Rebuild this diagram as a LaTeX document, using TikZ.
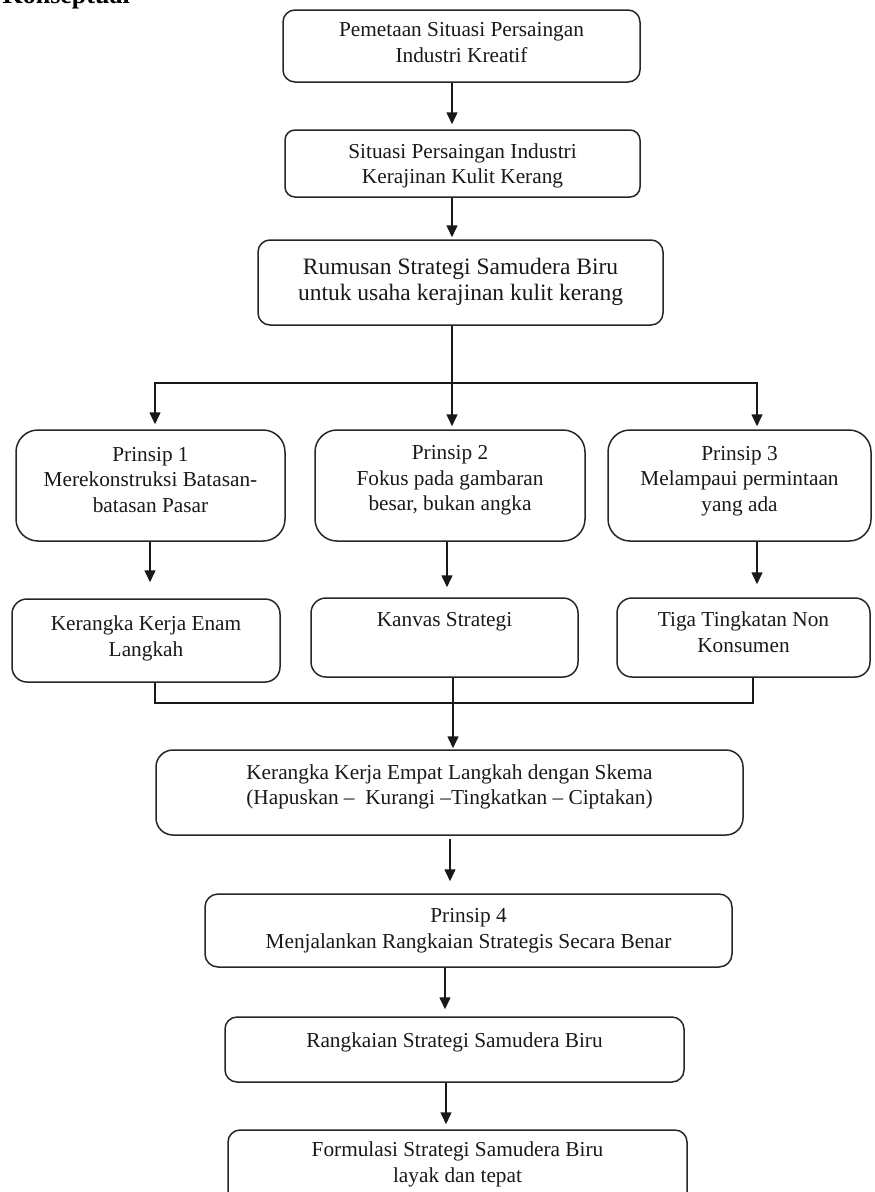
\documentclass[tikz,border=0pt]{standalone}
\usepackage{fontspec}
\setmainfont{Liberation Serif}
\usepackage{tikz}
\usetikzlibrary{positioning}
\usetikzlibrary{arrows.meta}

\newcommand{\boxfont}{\fontsize{21.3}{25.5}\selectfont}
\newcommand{\bigboxfont}{\fontsize{23.5}{25.5}\selectfont}

\tikzset{
	flowbox/.style={rectangle, draw=black!85, line width=1.5pt, align=center, inner sep=0pt, font=\boxfont, text=black!90},
	connector/.style={draw=black!90, line width=1.5pt},
	arrowline/.style={connector, -{Triangle[width=11pt,length=12pt]}},
}

\begin{document}
\begin{tikzpicture}[x=1pt, y=-1pt]
	\useasboundingbox (0,0) rectangle (875,1192);
	\clip (0,0) rectangle (875,1192);

	\node[font=\bfseries\fontsize{26}{30}\selectfont, anchor=base east, inner sep=0pt](judul) at (130,3){Konseptual};

	% alur atas
	\node[flowbox, minimum width=357pt, minimum height=72pt, rounded corners=12pt, text depth=7.5pt](pemetaan) at (461.5,46){Pemetaan Situasi Persaingan\\Industri Kreatif};
	\node[flowbox, minimum width=355pt, minimum height=67pt, rounded corners=10pt, text depth=0pt](situasi) at (462.5,163.5){Situasi Persaingan Industri\\Kerajinan Kulit Kerang};
	\node[flowbox, font=\bigboxfont, minimum width=405pt, minimum height=85pt, rounded corners=12pt, text depth=6.5pt](rumusan) at (460.5,282.5){Rumusan Strategi Samudera Biru\\untuk usaha kerajinan kulit kerang};

	% tiga prinsip
	\node[flowbox, minimum width=269pt, minimum height=111pt, rounded corners=22pt, text depth=11.5pt](prinsipA) at (150.5,485.5){Prinsip 1\\Merekonstruksi Batasan-\\batasan Pasar};
	\node[flowbox, minimum width=270pt, minimum height=111pt, rounded corners=22pt, text depth=14.5pt](prinsipB) at (450,485.5){Prinsip 2\\Fokus pada gambaran\\besar, bukan angka};
	\node[flowbox, minimum width=263pt, minimum height=111pt, rounded corners=22pt, text depth=13.5pt](prinsipC) at (739.5,485.5){Prinsip 3\\Melampaui permintaan\\yang ada};

	\node[flowbox, minimum width=268pt, minimum height=83pt, rounded corners=15pt, text depth=8.5pt](kerangkaEnam) at (146,640.5){Kerangka Kerja Enam\\Langkah};
	\node[flowbox, minimum width=267pt, minimum height=79pt, rounded corners=15pt, text depth=35.5pt](kanvas) at (444.5,637.5){Kanvas Strategi};
	\node[flowbox, minimum width=253pt, minimum height=79pt, rounded corners=15pt, text depth=10.5pt](tigaTingkat) at (743.5,637.5){Tiga Tingkatan Non\\Konsumen};

	% alur bawah
	\node[flowbox, minimum width=587pt, minimum height=85pt, rounded corners=17pt, text depth=15.5pt](kerangkaEmpat) at (449.5,792.5){Kerangka Kerja Empat Langkah dengan Skema\\(Hapuskan –\ \ Kurangi –Tingkatkan – Ciptakan)};
	\node[flowbox, minimum width=527pt, minimum height=73pt, rounded corners=13pt, text depth=4.5pt](prinsipEmpat) at (468.5,930.5){Prinsip 4\\Menjalankan Rangkaian Strategis Secara Benar};
	\node[flowbox, minimum width=459pt, minimum height=65pt, rounded corners=12pt, text depth=19.5pt](rangkaian) at (454.5,1049.5){Rangkaian Strategi Samudera Biru};
	\node[flowbox, minimum width=459pt, minimum height=80pt, rounded corners=12pt, text depth=15.5pt](formulasi) at (457.5,1170){Formulasi Strategi Samudera Biru\\layak dan tepat};

	\coordinate (colTop) at (452,0);
	\coordinate (splitMid) at (452,383);
	\coordinate (splitL) at (155,383);
	\coordinate (splitR) at (757,383);
	\coordinate (colA) at (150,0);
	\coordinate (colB) at (447,0);
	\coordinate (colC) at (757,0);
	\coordinate (joinL) at (155,703);
	\coordinate (joinMid) at (453,703);
	\coordinate (joinR) at (753,703);
	\coordinate (colD) at (450,0);
	\coordinate (colE) at (445,0);
	\coordinate (colF) at (446,0);

	\draw[arrowline, shorten >=5pt](pemetaan.south -| colTop) -- (situasi.north -| colTop);
	\draw[arrowline, shorten >=2pt](situasi.south -| colTop) -- (rumusan.north -| colTop);
	\draw[connector](rumusan.south -| colTop) -- (splitMid);
	\draw[arrowline, shorten >=5pt](splitMid) -| (splitL |- prinsipA.north);
	\draw[arrowline, shorten >=3pt](splitMid) -- (splitMid |- prinsipB.north);
	\draw[arrowline, shorten >=3pt](splitMid) -| (splitR |- prinsipC.north);

	\draw[arrowline, shorten >=16pt](prinsipA.south -| colA) -- (kerangkaEnam.north -| colA);
	\draw[arrowline, shorten >=10pt](prinsipB.south -| colB) -- (kanvas.north -| colB);
	\draw[arrowline, shorten >=13pt](prinsipC.south -| colC) -- (tigaTingkat.north -| colC);

	\draw[connector](kerangkaEnam.south -| joinL) |- (joinMid) -| (tigaTingkat.south -| joinR);
	\draw[arrowline, shorten >=1pt](kanvas.south -| joinMid) -- (kerangkaEmpat.north -| joinMid);

	\draw[arrowline, shorten <=3pt, shorten >=12pt](kerangkaEmpat.south -| colD) -- (prinsipEmpat.north -| colD);
	\draw[arrowline, shorten >=7pt](prinsipEmpat.south -| colE) -- (rangkaian.north -| colE);
	\draw[arrowline, shorten >=5pt](rangkaian.south -| colF) -- (formulasi.north -| colF);

\end{tikzpicture}
\end{document}
